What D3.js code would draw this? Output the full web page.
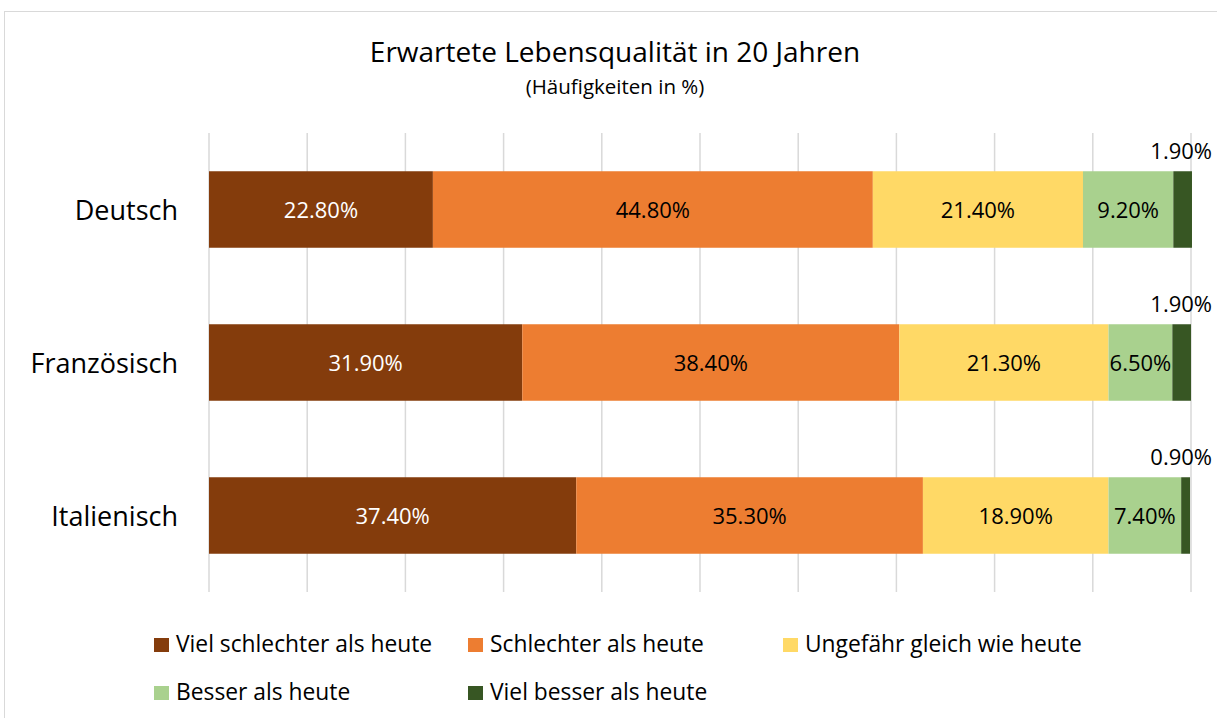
<!DOCTYPE html>
<html>
<head>
<meta charset="utf-8">
<script src="https://cdn.jsdelivr.net/npm/d3@7"></script>
<style>
  body { margin: 0; background: #fff; }
  text { font-family: "Open Sans", sans-serif; }
</style>
</head>
<body>
<div id="chart"></div>
<script>
// data
const groups = ["Deutsch", "Französisch", "Italienisch"];
const answers = ["Viel schlechter als heute", "Schlechter als heute", "Ungefähr gleich wie heute", "Besser als heute", "Viel besser als heute"];
const colors = ["#843C0C", "#ED7D31", "#FFD966", "#A9D18E", "#375623"];
const labelColors = ["#fff", "#000", "#000", "#000", "#000"];
const viel_schlechter = [22.8, 31.9, 37.4];
const schlechter = [44.8, 38.4, 35.3];
const gleich = [21.4, 21.3, 18.9];
const besser = [9.2, 6.5, 7.4];
const viel_besser = [1.9, 1.9, 0.9];
const xTicks = [0, 10, 20, 30, 40, 50, 60, 70, 80, 90, 100];

const W = 1217, H = 718;
const svg = d3.select('#chart').append('svg')
  .attr('width', W)
  .attr('height', H);

// chart border
svg.append('rect')
  .attr('x', 4.5).attr('y', 11.5)
  .attr('width', 1240).attr('height', 720)
  .attr('fill', 'none')
  .attr('stroke', '#d9d9d9');

// title
svg.append('text')
  .attr('x', 615).attr('y', 62)
  .attr('text-anchor', 'middle')
  .attr('font-size', 28)
  .attr('fill', '#000')
  .text('Erwartete Lebensqualität in 20 Jahren');
svg.append('text')
  .attr('x', 615).attr('y', 94)
  .attr('text-anchor', 'middle')
  .attr('font-size', 20.5)
  .attr('fill', '#000')
  .text('(Häufigkeiten in %)');

const x = d3.scaleLinear().domain([0, 100]).range([209, 1191]);
const y = d3.scaleBand().domain(groups).range([133, 592]).paddingInner(0.5).paddingOuter(0.25);

// gridlines
svg.append('g')
  .selectAll('line')
  .data(xTicks)
  .enter().append('line')
  .attr('x1', d => x(d)).attr('x2', d => x(d))
  .attr('y1', 133).attr('y2', 592)
  .attr('stroke', '#d9d9d9')
  .attr('stroke-width', 1.5);

// stack
const rows = groups.map((g, i) => ({
  group: g,
  values: [viel_schlechter[i], schlechter[i], gleich[i], besser[i], viel_besser[i]]
}));
const segs = [];
rows.forEach(r => {
  let acc = 0;
  r.values.forEach((v, k) => {
    segs.push({ group: r.group, k: k, v: v, x0: acc, x1: acc + v });
    acc += v;
  });
});

svg.append('g')
  .selectAll('rect')
  .data(segs)
  .enter().append('rect')
  .attr('x', d => x(d.x0))
  .attr('y', d => y(d.group))
  .attr('width', d => x(d.x1) - x(d.x0))
  .attr('height', y.bandwidth())
  .attr('fill', d => colors[d.k]);

// value labels (last series sits above the bar, right aligned)
svg.append('g')
  .selectAll('text')
  .data(segs)
  .enter().append('text')
  .attr('x', d => d.k === 4 ? x(100) + 21 : (x(d.x0) + x(d.x1)) / 2)
  .attr('y', d => d.k === 4 ? y(d.group) - 12 : y(d.group) + y.bandwidth() / 2 + 8)
  .attr('text-anchor', d => d.k === 4 ? 'end' : 'middle')
  .attr('font-size', 22)
  .attr('fill', d => labelColors[d.k])
  .text(d => d.v.toFixed(2) + '%');

// category labels
svg.append('g')
  .selectAll('text')
  .data(groups)
  .enter().append('text')
  .attr('x', 178)
  .attr('y', d => y(d) + y.bandwidth() / 2 + 10)
  .attr('text-anchor', 'end')
  .attr('font-size', 27)
  .attr('fill', '#000')
  .text(d => d);

// legend
const legendPos = [[154, 652], [468, 652], [783, 652], [154, 700], [468, 700]];
const legend = svg.append('g')
  .selectAll('g')
  .data(answers)
  .enter().append('g')
  .attr('transform', (d, i) => 'translate(' + legendPos[i][0] + ',' + legendPos[i][1] + ')');
legend.append('rect')
  .attr('x', 0).attr('y', -14)
  .attr('width', 15).attr('height', 14)
  .attr('fill', (d, i) => colors[i]);
legend.append('text')
  .attr('x', 22).attr('y', 0)
  .attr('font-size', 22.8)
  .attr('fill', '#000')
  .text(d => d);
</script>
</body>
</html>
